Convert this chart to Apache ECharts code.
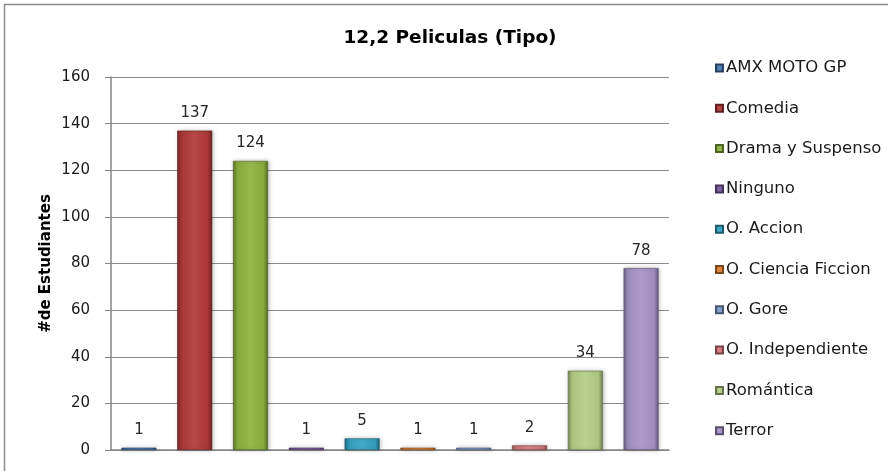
<!DOCTYPE html>
<html>
<head>
<meta charset="utf-8">
<script src="https://cdn.jsdelivr.net/npm/echarts@6/dist/echarts.min.js"></script>
<style>
  html, body { margin: 0; padding: 0; background: #fff; }
  #chart { width: 888px; height: 471px; }
</style>
</head>
<body>
<div id="chart"></div>
<script>
// Movie genre preferences, number of students per genre
const categories = [
  'AMX MOTO GP', 'Comedia', 'Drama y Suspenso', 'Ninguno', 'O. Accion',
  'O. Ciencia Ficcion', 'O. Gore', 'O. Independiente', 'Romántica', 'Terror'
];
const values = [1, 137, 124, 1, 5, 1, 1, 2, 34, 78];
const yTicks = [0, 20, 40, 60, 80, 100, 120, 140, 160];

// Bar base colours, one per genre
const palette = [
  '#4a77b0', '#b23838', '#8db23e', '#7a5a9f', '#35a3c4',
  '#e07f30', '#7f9ccb', '#d9797b', '#b5cd85', '#a693c6'
];

function shade(hex, f) {
  const n = parseInt(hex.slice(1), 16);
  let r = (n >> 16) & 255, g = (n >> 8) & 255, b = n & 255;
  const m = v => Math.max(0, Math.min(255, Math.round(f < 0 ? v * (1 + f) : v + (255 - v) * f)));
  return 'rgb(' + m(r) + ',' + m(g) + ',' + m(b) + ')';
}

function barFill(c) {
  return {
    type: 'linear', x: 0, y: 0, x2: 1, y2: 0,
    colorStops: [
      { offset: 0, color: shade(c, -0.35) },
      { offset: 0.12, color: shade(c, -0.05) },
      { offset: 0.5, color: shade(c, 0.08) },
      { offset: 0.88, color: shade(c, -0.05) },
      { offset: 1, color: shade(c, -0.4) }
    ]
  };
}

const FONT = 'DejaVu Sans';

const series = categories.map((name, i) => ({
  name: name,
  type: 'bar',
  stack: 'genre',
  barWidth: 35,
  data: values.map((v, j) => (j === i ? v : null)),
  itemStyle: {
    color: barFill(palette[i]),
    borderColor: shade(palette[i], -0.45),
    borderWidth: 0.6,
    shadowColor: 'rgba(0,0,0,0.25)',
    shadowBlur: 4,
    shadowOffsetX: 1
  },
  label: {
    show: true,
    position: 'top',
    distance: 10,
    color: '#262626',
    fontFamily: FONT,
    fontSize: 15,
    formatter: p => (p.value == null ? '' : String(p.value))
  }
}));

const chart = echarts.init(document.getElementById('chart'), null, { renderer: 'canvas' });
chart.setOption({
  animation: false,
  backgroundColor: '#ffffff',
  color: palette,
  title: {
    text: '12,2 Peliculas (Tipo)',
    left: 445,
    textAlign: 'center',
    top: 24,
    textStyle: { fontFamily: FONT, fontWeight: 'bold', fontSize: 18.5, color: '#000' }
  },
  graphic: [{
    type: 'rect',
    silent: true,
    shape: { x: 4.5, y: 4.5, width: 1000, height: 1000 },
    style: { fill: null, stroke: '#8c8c8c', lineWidth: 1.5 }
  }],
  legend: {
    orient: 'vertical',
    left: 710,
    top: 54,
    itemWidth: 7,
    itemHeight: 7,
    itemGap: 22.3,
    icon: 'rect',
    textStyle: { fontFamily: FONT, fontSize: 16.5, color: '#1a1a1a', lineHeight: 18, padding: [0, 0, 0, -2] },
    data: categories
  },
  grid: { left: 111, right: 219, top: 77, bottom: 21, containLabel: false },
  xAxis: {
    type: 'category',
    data: categories,
    axisLine: { lineStyle: { color: '#868686', width: 1.5 } },
    axisTick: { show: false },
    axisLabel: { show: false }
  },
  yAxis: {
    type: 'value',
    min: yTicks[0],
    max: yTicks[yTicks.length - 1],
    interval: 20,
    name: '#de Estudiantes',
    nameLocation: 'middle',
    nameGap: 57,
    nameMoveOverlap: false,
    nameTextStyle: { fontFamily: FONT, fontWeight: 'bold', fontSize: 15, color: '#000' },
    axisLine: { show: true, lineStyle: { color: '#868686', width: 1.5 } },
    axisTick: { show: true, length: 6, lineStyle: { color: '#868686' } },
    axisLabel: { fontFamily: FONT, fontSize: 15, color: '#1a1a1a', margin: 21 },
    splitLine: { lineStyle: { color: '#8c8c8c', width: 1.2 } }
  },
  series: series
});
</script>
</body>
</html>
